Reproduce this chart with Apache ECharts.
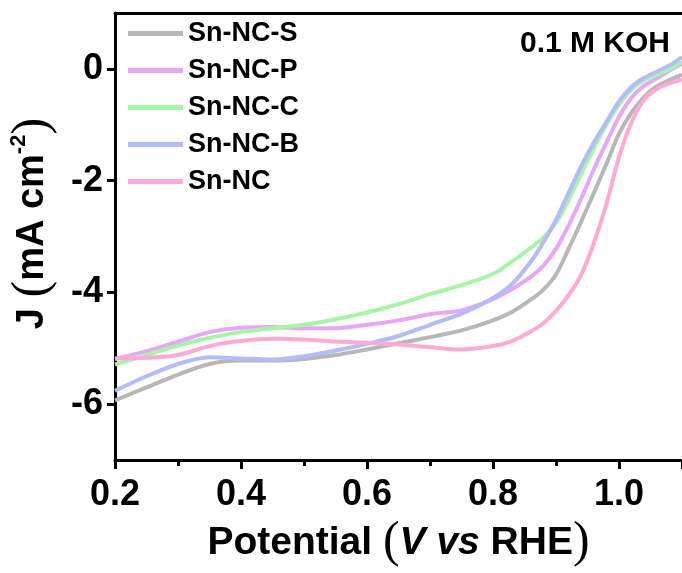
<!DOCTYPE html>
<html>
<head>
<meta charset="utf-8">
<script src="https://cdn.jsdelivr.net/npm/echarts@6/dist/echarts.min.js"></script>
<style>
  html, body { margin: 0; padding: 0; background: #fff; }
  #chart { width: 682px; height: 573px; }
</style>
</head>
<body>
<div id="chart"></div>
<script>
// potential (V vs RHE), shared by all curves
const potential = [0.20, 0.25, 0.30, 0.35, 0.40, 0.45, 0.50, 0.55, 0.60, 0.65, 0.70, 0.75, 0.80,
  0.83, 0.86, 0.88, 0.90, 0.92, 0.94, 0.96, 0.98, 1.00, 1.02, 1.04, 1.06, 1.08, 1.10]

// current density J (mA cm-2)
const snNcS = [-5.93, -5.70, -5.47, -5.28, -5.22, -5.22, -5.19, -5.12, -5.02, -4.91, -4.80, -4.68, -4.50,
  -4.35, -4.13, -3.95, -3.68, -3.22, -2.73, -2.22, -1.70, -1.16, -0.78, -0.50, -0.31, -0.20, -0.10]
const snNcP = [-5.19, -5.05, -4.88, -4.71, -4.63, -4.62, -4.64, -4.64, -4.58, -4.50, -4.39, -4.32, -4.12,
  -3.94, -3.72, -3.52, -3.22, -2.80, -2.32, -1.80, -1.32, -0.86, -0.51, -0.30, -0.17, -0.03, 0.09]
const snNcC = [-5.29, -5.12, -4.95, -4.81, -4.71, -4.64, -4.58, -4.48, -4.36, -4.21, -4.03, -3.87, -3.67,
  -3.45, -3.20, -3.02, -2.75, -2.35, -1.88, -1.42, -1.00, -0.64, -0.37, -0.20, -0.11, 0.00, 0.13]
const snNcB = [-5.76, -5.50, -5.28, -5.16, -5.18, -5.20, -5.14, -5.04, -4.92, -4.78, -4.58, -4.38, -4.10,
  -3.85, -3.45, -3.10, -2.70, -2.22, -1.74, -1.32, -0.95, -0.58, -0.32, -0.16, -0.05, 0.06, 0.21]
const snNc = [-5.18, -5.17, -5.12, -4.96, -4.87, -4.83, -4.84, -4.88, -4.90, -4.93, -4.98, -5.02, -4.96,
  -4.87, -4.70, -4.55, -4.33, -4.05, -3.68, -3.12, -2.42, -1.58, -0.95, -0.55, -0.36, -0.26, -0.19]

const seriesNames = ['Sn-NC-S', 'Sn-NC-P', 'Sn-NC-C', 'Sn-NC-B', 'Sn-NC']
const seriesData = [snNcS, snNcP, snNcC, snNcB, snNc]
const colors = ['#b7b7b7', '#e8a6f7', '#a6f5a6', '#b3bbf8', '#ffa9d6']

const yTicks = [-6, -4, -2, 0]

const font = 'Liberation Sans, Arial, sans-serif'
const serif = 'Liberation Serif, Times New Roman, serif'

const chart = echarts.init(document.getElementById('chart'))

chart.setOption({
  animation: false,
  grid: { left: 112, top: 13, width: 570, height: 460 },
  legend: {
    left: 128,
    top: 20,
    padding: 0,
    orient: 'vertical',
    icon: 'rect',
    itemWidth: 55,
    itemHeight: 5,
    itemGap: 10,
    textStyle: { fontFamily: font, fontWeight: 'bold', fontSize: 27, lineHeight: 26, color: '#000' },
    data: seriesNames
  },
  graphic: [{
    type: 'text',
    left: 520,
    top: 29,
    style: { text: '0.1 M KOH', font: 'bold 30px ' + font, fill: '#000' }
  }],
  xAxis: [{
    type: 'value',
    min: 0.2,
    max: 1.1,
    interval: 0.2,
    name: '{b|Potential }{p|(}{i|V vs}{b| RHE}{p|)}',
    nameLocation: 'middle',
    nameGap: 46,
    nameTextStyle: {
      rich: {
        b: { fontFamily: font, fontWeight: 'bold', fontSize: 39, color: '#000' },
        i: { fontFamily: font, fontWeight: 'bold', fontStyle: 'italic', fontSize: 39, color: '#000' },
        p: { fontFamily: serif, fontSize: 50, color: '#000' }
      }
    },
    axisLine: { onZero: false, lineStyle: { color: '#000', width: 3 } },
    axisTick: { length: 9, lineStyle: { color: '#000', width: 3 } },
    minorTick: { show: true, splitNumber: 2, length: 6, lineStyle: { color: '#000', width: 3 } },
    splitLine: { show: false },
    axisLabel: {
      margin: 17,
      showMaxLabel: false,
      fontFamily: font,
      fontWeight: 'bold',
      fontSize: 36,
      color: '#000',
      formatter: v => v.toFixed(1)
    }
  }, {
    type: 'value',
    position: 'top',
    min: 0.2,
    max: 1.1,
    axisLine: { onZero: false, lineStyle: { color: '#000', width: 3 } },
    axisTick: { show: false },
    axisLabel: { show: false },
    splitLine: { show: false }
  }],
  yAxis: {
    type: 'value',
    min: -7,
    max: 1,
    name: '{b|J }{p|(}{b|mA cm}{s|-2}{p|)}',
    nameLocation: 'middle',
    nameGap: 57,
    nameTextStyle: {
      padding: [0, 0, 0, 26],
      rich: {
        b: { fontFamily: font, fontWeight: 'bold', fontSize: 38, color: '#000' },
        s: { fontFamily: font, fontWeight: 'bold', fontSize: 22, color: '#000', verticalAlign: 'top' },
        p: { fontFamily: serif, fontSize: 50, color: '#000' }
      }
    },
    axisLine: { onZero: false, lineStyle: { color: '#000', width: 3 } },
    axisTick: { length: 8, customValues: yTicks, lineStyle: { color: '#000', width: 3 } },
    splitLine: { show: false },
    axisLabel: {
      margin: 12,
      customValues: yTicks,
      fontFamily: font,
      fontWeight: 'bold',
      fontSize: 36,
      color: '#000'
    }
  },
  series: seriesNames.map((name, i) => ({
    name,
    type: 'line',
    showSymbol: false,
    symbol: 'none',
    smooth: 0.3,
    color: colors[i],
    lineStyle: { width: 4, color: colors[i] },
    data: potential.map((v, k) => [v, seriesData[i][k]])
  }))
})
</script>
</body>
</html>
